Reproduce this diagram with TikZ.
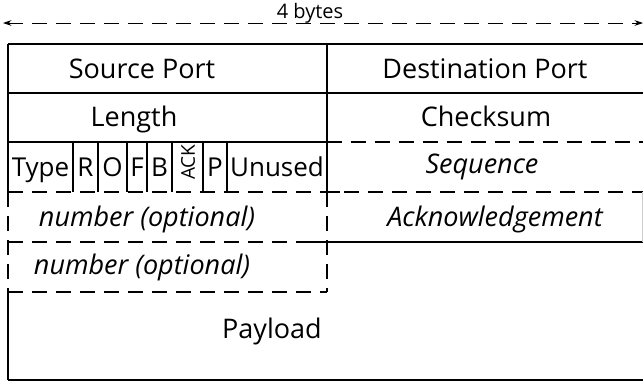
\documentclass[tikz,border=0pt]{standalone}
\usepackage{fontspec}
\setmainfont{Open Sans}
\usepackage{tikz}
\usetikzlibrary{arrows.meta,calc}

\begin{document}
\begin{tikzpicture}[
    x=1pt, y=-1pt,
    field/.style={font=\fontsize{27}{30}\selectfont, inner sep=0pt, anchor=base},
    optfield/.style={font=\fontsize{27}{30}\selectfont\itshape, inner sep=0pt, anchor=base},
    flag/.style={font=\fontsize{26}{30}\selectfont, inner sep=0pt, anchor=base},
    solidline/.style={line width=1.1pt},
    dashline/.style={line width=1.1pt, dash pattern=on 15pt off 9pt},
    span/.style={{Stealth[length=3mm,width=2mm]}-{Stealth[length=3mm,width=2mm]}, line width=0.9pt, dash pattern=on 15pt off 9pt}
]
\useasboundingbox (0,0) rectangle (643,381);

% Width marker
\coordinate (spanL) at (3,23);
\coordinate (spanR) at (643,23);
\draw[span] (spanL) -- (spanR);
\node[font=\fontsize{20}{22}\selectfont, inner sep=0pt, anchor=base] (width) at (310,18) {4 bytes};

% Frame
\draw[solidline] (8,44) -- (643,44);
\draw[solidline] (8,93) -- (643,93);
\draw[solidline] (8,142) -- (327,142);
\draw[dashline] (327,142) -- (643,142);
\draw[dashline] (8,192) -- (643,192);
\draw[dashline] (8,242) -- (327,242);
\draw[solidline] (310,242) -- (643,242);
\draw[dashline] (8,292) -- (327,292);
\draw[solidline] (8,380) -- (643,380);
\draw[solidline] (8,44) -- (8,192);
\draw[dashline] (8,192) -- (8,292);
\draw[solidline] (8,292) -- (8,380);
\draw[line width=1.5pt] (327,44) -- (327,192);
\draw[dashline] (327,192) -- (327,292);
\draw[solidline] (327,192) -- (340,192);
\draw[solidline] (327,242) -- (340,242);
\draw[gray!40, line width=0.8pt] (642,192) -- (642,242);

% Flag cells
\foreach \xx in {73,98,127,147,172,203,227}
  \draw[solidline] (\xx,142) -- (\xx,192);

% Labels
\node[field] (srcport) at (142,78.5) {Source Port};
\node[field] (dstport) at (485,78.5) {Destination Port};
\node[field] (length) at (134,126.5) {Length};
\node[field] (checksum) at (486,126.5) {Checksum};
\node[flag] (type) at (40.5,176.5) {Type};
\node[flag] (rflag) at (85.5,176.5) {R};
\node[flag] (oflag) at (112.5,176.5) {O};
\node[flag] (fflag) at (137,176.5) {F};
\node[flag] (bflag) at (159.5,176.5) {B};
\node[font=\fontsize{19}{21}\selectfont, inner sep=0pt, rotate=90] (ackflag) at (188,162) {ACK};
\node[flag] (pflag) at (215,176.5) {P};
\node[flag] (unused) at (277,176.5) {Unused};
\node[optfield] (seq) at (482,173.5) {Sequence};
\node[optfield] (ack) at (495,226.5) {Acknowledgement};
\node[optfield] (seqnum) at (147,226) {number (optional)};
\node[optfield] (acknum) at (142,274) {number (optional)};
\node[field] (payload) at (272,338) {Payload};

\end{tikzpicture}
\end{document}
